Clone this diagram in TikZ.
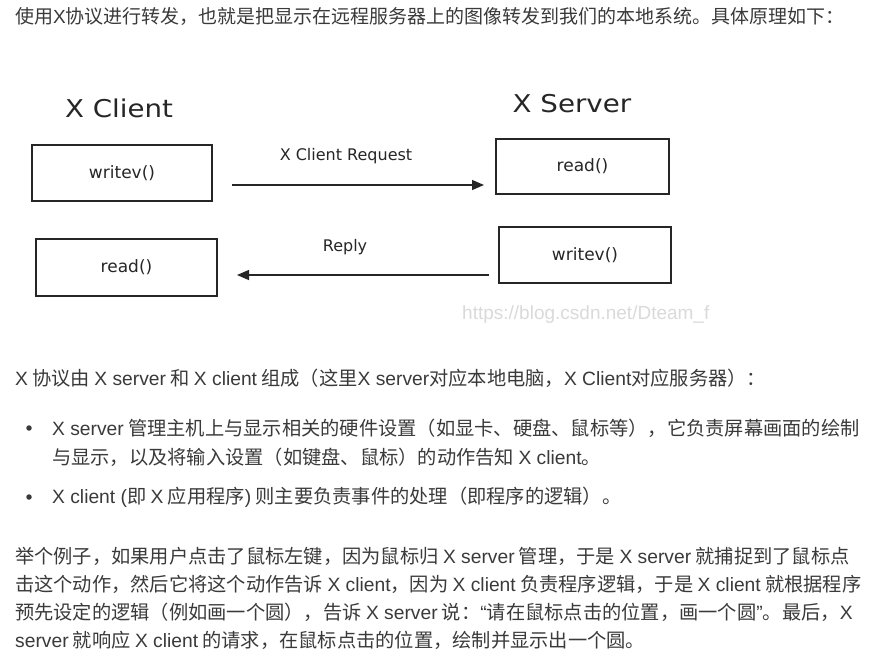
\documentclass[tikz,border=0pt]{standalone}
\usepackage{fontspec}
\setmainfont{Noto Sans CJK SC}
\newfontfamily\latfont{Liberation Sans}
\newfontfamily\diafont{DejaVu Sans}
\newfontfamily\titfont[FakeStretch=1.13]{DejaVu Sans}
\usetikzlibrary{arrows.meta}
\newcommand\en[1]{{\latfont #1}}
\definecolor{txt}{HTML}{3A3A3A}
\definecolor{wm}{HTML}{DADADA}
\begin{document}
\begin{tikzpicture}[x=1pt,y=-1pt,
  para/.style={anchor=west,inner sep=0pt,text=txt,font=\fontsize{19.25}{22}\selectfont},
  box/.style={draw=black!85,line width=1.4pt,inner sep=0pt},
  boxtext/.style={font=\diafont\fontsize{17}{19}\selectfont,text=black!85},
  title/.style={font=\titfont\fontsize{24.5}{28}\selectfont,text=black!85,inner sep=0pt},
  lab/.style={font=\diafont\fontsize{16}{18}\selectfont,text=black!85,inner sep=0pt},
  arr/.style={line width=1.3pt,draw=black!85,-{Triangle[length=12pt,width=10pt]}},
  bul/.style={circle,fill=txt,inner sep=0pt,minimum size=5.5pt}]
\useasboundingbox[fill=white] (0,0) rectangle (872,671);

\node[para,font=\fontsize{19}{22}\selectfont] (l1) at (15,17) {使用\en{X}协议进行转发，也就是把显示在远程服务器上的图像转发到我们的本地系统。具体原理如下：};

\node[title] (tc) at (119,108) {X Client};
\node[title] (ts) at (572,104) {X Server};

\node[box,boxtext,minimum width=180pt,minimum height=56pt] (cw) at (122,173) {writev()};
\node[box,boxtext,minimum width=181pt,minimum height=57pt] (cr) at (126.5,267.5) {read()};
\node[box,boxtext,minimum width=173pt,minimum height=55pt] (sr) at (582.5,166.5) {read()};
\node[box,boxtext,minimum width=172pt,minimum height=56pt] (sw) at (585,255) {writev()};

\coordinate (a1s) at (232,185);
\coordinate (a1e) at (484,185);
\coordinate (a2s) at (489,275);
\coordinate (a2e) at (237,275);
\draw[arr] (a1s) -- (a1e);
\draw[arr] (a2s) -- (a2e);
\node[lab] (rq) at (346,156) {X Client Request};
\node[lab] (rp) at (345,247) {Reply};

\node[anchor=west,inner sep=0pt,text=wm,font=\latfont\fontsize{19}{22}\selectfont] (wmk) at (462,315) {https://blog.csdn.net/Dteam\_f};

\node[para] (p1) at (15,378) {\en{X} 协议由 \en{X server} 和 \en{X client} 组成（这里\en{X server}对应本地电脑，\en{X Client}对应服务器）：};

\node[bul] (b1) at (29,428) {};
\node[para] (q1) at (52,428) {\en{X server} 管理主机上与显示相关的硬件设置（如显卡、硬盘、鼠标等），它负责屏幕画面的绘制};
\node[para] (q2) at (52,457) {与显示，以及将输入设置（如键盘、鼠标）的动作告知 \en{X client}。};
\node[bul] (b2) at (29,497) {};
\node[para] (q3) at (52,497) {\en{X client (}即 \en{X} 应用程序\en{)} 则主要负责事件的处理（即程序的逻辑）。};

\node[para] (r1) at (15,556) {举个例子，如果用户点击了鼠标左键，因为鼠标归 \en{X server} 管理，于是 \en{X server} 就捕捉到了鼠标点};
\node[para] (r2) at (15,584) {击这个动作，然后它将这个动作告诉 \en{X client}，因为 \en{X client} 负责程序逻辑，于是 \en{X client} 就根据程序};
\node[para] (r3) at (15,612) {预先设定的逻辑（例如画一个圆），告诉 \en{X server} 说：\en{“}请在鼠标点击的位置，画一个圆\en{”}。最后，\en{X}};
\node[para] (r4) at (15,640) {\en{server} 就响应 \en{X client} 的请求，在鼠标点击的位置，绘制并显示出一个圆。};
\end{tikzpicture}
\end{document}
